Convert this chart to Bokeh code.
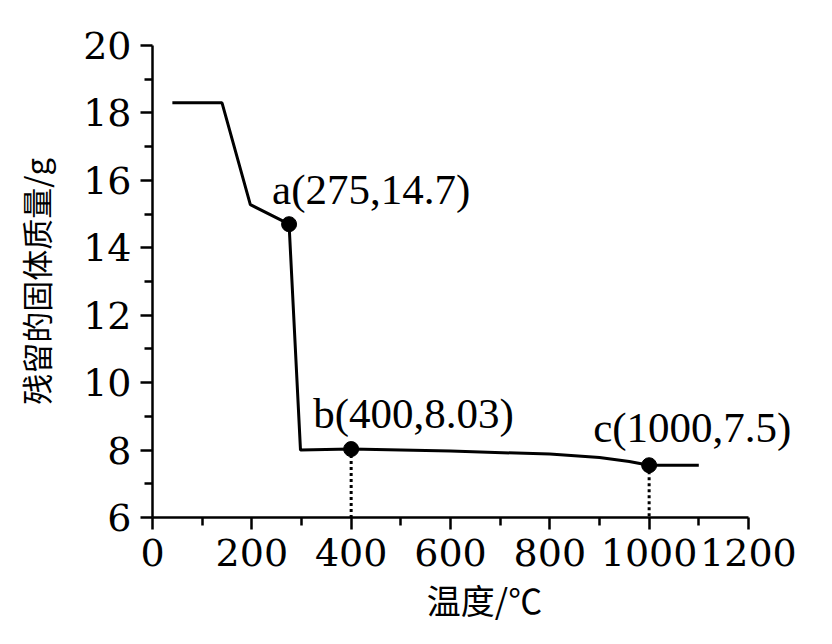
from bokeh.plotting import figure
from bokeh.models import FixedTicker, Range1d, ColumnDataSource, LabelSet
from bokeh.embed import file_html
from bokeh.resources import INLINE

# curve of residual solid mass vs temperature
temps = [40, 140, 197, 275, 298, 400, 600, 800, 900, 960, 1000, 1100]
mass = [18.3, 18.3, 15.28, 14.7, 8.0, 8.03, 7.97, 7.88, 7.78, 7.66, 7.55, 7.55]

# marked points
pt_x = [275, 400, 1000]
pt_y = [14.7, 8.03, 7.55]
pt_labels = ["a(275,14.7)", "b(400,8.03)", "c(1000,7.5)"]

x_ticks = [0, 200, 400, 600, 800, 1000, 1200]
x_minor = [100, 300, 500, 700, 900, 1100]
y_ticks = [6, 8, 10, 12, 14, 16, 18, 20]
y_minor = [7, 9, 11, 13, 15, 17, 19]

x_title = "温度/℃"
y_title = "残留的固体质量/g"

# frame is widened past 1200 so the right-hand label has room; axis stops at 1200
p = figure(width=816, height=626, output_backend="svg", toolbar_location=None,
           x_range=Range1d(0, 1337), y_range=Range1d(6, 20),
           min_border_left=152, min_border_right=0, min_border_top=45, min_border_bottom=101)
p.outline_line_color = None
p.grid.visible = False
p.background_fill_color = "white"
p.border_fill_color = "white"

serif = "DejaVu Serif"
for ax, ticks, minor in ((p.xaxis[0], x_ticks, x_minor), (p.yaxis[0], y_ticks, y_minor)):
    ax.ticker = FixedTicker(ticks=ticks, minor_ticks=minor)
    ax.axis_line_width = 2.5
    ax.axis_line_color = "black"
    ax.major_tick_line_width = 2.5
    ax.minor_tick_line_width = 2.5
    ax.major_tick_line_color = "black"
    ax.minor_tick_line_color = "black"
    ax.major_tick_in = 0
    ax.major_tick_out = 12
    ax.minor_tick_in = 0
    ax.minor_tick_out = 8
    ax.major_label_text_font = serif
    ax.major_label_text_font_size = "38px"
    ax.major_label_text_color = "black"
    ax.major_label_standoff = 9
    ax.axis_label_text_font = "Noto Sans CJK SC"
    ax.axis_label_text_font_style = "normal"
    ax.axis_label_text_color = "black"

p.xaxis.bounds = (x_ticks[0], x_ticks[-1])
p.xaxis.axis_label = x_title
p.xaxis.axis_label_text_font_size = "34px"
p.xaxis.axis_label_standoff = 6
p.yaxis.axis_label = y_title
p.yaxis.axis_label_text_font_size = "31px"
p.yaxis.axis_label_standoff = 22

p.line(temps, mass, line_color="black", line_width=3)

src = ColumnDataSource(dict(x=pt_x, y=pt_y, lab=pt_labels))
drop = ColumnDataSource(dict(x=pt_x[1:], y=pt_y[1:], y0=[p.y_range.start] * (len(pt_x) - 1)))
p.segment(x0="x", y0="y", x1="x", y1="y0", source=drop,
          line_color="black", line_width=3, line_dash="3 3")
p.scatter("x", "y", source=src, size=15, fill_color="black", line_color="black")

for i in range(len(pt_x)):
    one = ColumnDataSource(dict(x=[pt_x[i]], y=[pt_y[i]], lab=[pt_labels[i]]))
    p.add_layout(LabelSet(x="x", y="y", text="lab", source=one,
                          x_offset=[-17, -38, -56][i], y_offset=[35, 36, 38][i],
                          text_font=serif, text_font_size="43px", text_color="black",
                          text_baseline="middle", text_align="left"))

open("out.html", "w").write(file_html(p, INLINE))
